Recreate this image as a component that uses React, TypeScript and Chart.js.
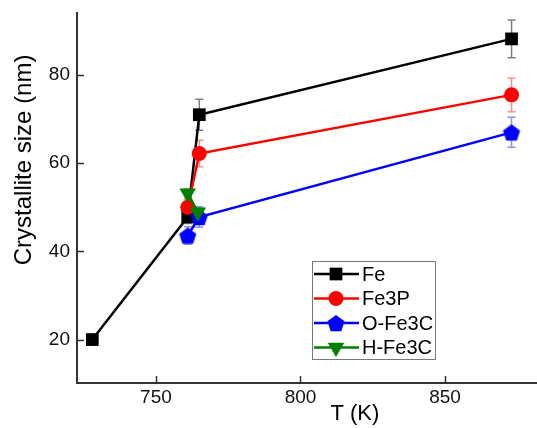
import React, { useEffect, useRef } from 'react';
import { Chart, registerables } from 'chart.js';
import { drawPoint } from 'chart.js/helpers';

Chart.register(...registerables);

// ---- data ----
const seriesNames = ['Fe', 'Fe3P', 'O-Fe3C', 'H-Fe3C'];
const feT = [728, 761, 765, 873];
const feSize = [20, 47.8, 71, 88.2];
const feErr = [0.8, 1.5, 3.5, 4.3];
const fe3pT = [761, 765, 873];
const fe3pSize = [50, 62.2, 75.5];
const fe3pErr = [1.8, 3, 3.8];
const oFe3cT = [761, 765, 873];
const oFe3cSize = [43.6, 47.8, 67];
const oFe3cErr = [2, 2.3, 3.4];
const hFe3cT = [761, 764.5];
const hFe3cSize = [53.2, 48.9];
const hFe3cErr = [1, 1];
const xTicks = [750, 800, 850];
const yTicks = [20, 40, 60, 80];
const xTitle = 'T (K)';
const yTitle = 'Crystallite size (nm)';

const FONT = '"Liberation Sans", Arial, sans-serif';
const colors = ['#000000', '#ff0000', '#0000ff', '#008000'];
const errColors = ['rgba(0,0,0,0.5)', 'rgba(255,0,0,0.45)', 'rgba(0,0,255,0.45)', 'rgba(0,128,0,0.45)'];

function makePentagon(r: number, color: string) {
  const size = Math.ceil(2 * r + 2);
  const c = document.createElement('canvas');
  c.width = size;
  c.height = size;
  const ctx = c.getContext('2d')!;
  const cx = size / 2, cy = size / 2 + 1;
  ctx.beginPath();
  for (let i = 0; i < 5; i++) {
    const a = -Math.PI / 2 + (i * 2 * Math.PI) / 5;
    ctx.lineTo(cx + r * Math.cos(a), cy + r * Math.sin(a));
  }
  ctx.closePath();
  ctx.fillStyle = color;
  ctx.fill();
  return c;
}

export default function App() {
  const ref = useRef<HTMLCanvasElement>(null);
  useEffect(() => {
    document.body.style.margin = '0';
    const pentagon = makePentagon(9, colors[2]);
    const styles: any[] = [
      { pointStyle: 'rect', radius: 9, rotation: 0 },
      { pointStyle: 'circle', radius: 7.5, rotation: 0 },
      { pointStyle: pentagon, radius: 9, rotation: 0 },
      { pointStyle: 'triangle', radius: 9.5, rotation: 180 },
    ];
    const xs = [feT, fe3pT, oFe3cT, hFe3cT];
    const ys = [feSize, fe3pSize, oFe3cSize, hFe3cSize];
    const errs = [feErr, fe3pErr, oFe3cErr, hFe3cErr];

    const datasets = seriesNames.map((name, i) => ({
      label: name,
      data: xs[i].map((x, j) => ({ x, y: ys[i][j] })),
      borderColor: colors[i],
      backgroundColor: colors[i],
      borderWidth: 2.5,
      pointStyle: styles[i].pointStyle,
      pointRadius: styles[i].radius,
      pointHoverRadius: styles[i].radius,
      pointRotation: styles[i].rotation,
      pointBorderWidth: 0,
      pointBackgroundColor: colors[i],
      showLine: true,
      tension: 0,
      order: 3 - i,
    }));

    const errorBars = {
      id: 'errorBars',
      beforeDatasetsDraw(chart: any) {
        const { ctx, scales } = chart;
        const xS = scales.x, yS = scales.y;
        ctx.save();
        ctx.lineWidth = 1.5;
        errs.forEach((arr, i) => {
          ctx.strokeStyle = errColors[i];
          arr.forEach((e, j) => {
            const px = xS.getPixelForValue(xs[i][j]);
            const top = yS.getPixelForValue(ys[i][j] + e);
            const bot = yS.getPixelForValue(ys[i][j] - e);
            ctx.beginPath();
            ctx.moveTo(px, top); ctx.lineTo(px, bot);
            ctx.moveTo(px - 4, top); ctx.lineTo(px + 4, top);
            ctx.moveTo(px - 4, bot); ctx.lineTo(px + 4, bot);
            ctx.stroke();
          });
        });
        ctx.restore();
      },
    };

    const titlesAndLegend = {
      id: 'titlesAndLegend',
      afterDraw(chart: any) {
        const { ctx, chartArea, scales } = chart;
        const { left, right, top, bottom } = chartArea;
        ctx.save();
        // inward ticks
        ctx.strokeStyle = '#333';
        ctx.lineWidth = 1.5;
        ctx.beginPath();
        scales.x.ticks.forEach((t: any) => {
          const px = Math.round(scales.x.getPixelForValue(t.value)) + 0.5;
          ctx.moveTo(px, bottom); ctx.lineTo(px, bottom - 7);
        });
        scales.y.ticks.forEach((t: any) => {
          const py = Math.round(scales.y.getPixelForValue(t.value)) + 0.5;
          ctx.moveTo(left, py); ctx.lineTo(left + 7, py);
        });
        ctx.stroke();

        // axis titles
        ctx.fillStyle = '#000';
        ctx.textAlign = 'center';
        ctx.textBaseline = 'middle';
        ctx.font = `22px ${FONT}`;
        ctx.fillText(xTitle, left + (right - left) * 0.604, bottom + 31);
        ctx.save();
        ctx.translate(24, top + (bottom - top) * 0.397);
        ctx.rotate(-Math.PI / 2);
        ctx.font = `24px ${FONT}`;
        ctx.fillText(yTitle, 0, 0);
        ctx.restore();

        // legend
        const bx = left + 235, by = top + 248, bw = 123, bh = 98;
        ctx.fillStyle = '#fff';
        ctx.fillRect(bx, by, bw, bh);
        ctx.strokeStyle = '#777';
        ctx.lineWidth = 1;
        ctx.strokeRect(bx + 0.5, by + 0.5, bw, bh);
        ctx.textAlign = 'left';
        ctx.font = `20px ${FONT}`;
        seriesNames.forEach((name, i) => {
          const ry = by + 13 + i * 24.5;
          ctx.strokeStyle = colors[i];
          ctx.lineWidth = 2.5;
          ctx.beginPath();
          ctx.moveTo(bx + 2, ry); ctx.lineTo(bx + 47, ry);
          ctx.stroke();
          ctx.fillStyle = colors[i];
          drawPoint(ctx, { pointStyle: styles[i].pointStyle, radius: styles[i].radius, rotation: styles[i].rotation, borderWidth: 0 } as any, bx + 24, ry);
          ctx.fillStyle = '#000';
          ctx.fillText(name, bx + 50, ry + 1);
        });
        ctx.restore();
      },
    };

    const chart = new Chart(ref.current!, {
      type: 'scatter',
      data: { datasets: datasets as any },
      options: {
        animation: false,
        responsive: false,
        maintainAspectRatio: false,
        layout: { autoPadding: false, padding: { top: 13, right: 0, left: 0, bottom: 0 } },
        plugins: { legend: { display: false }, tooltip: { enabled: false } },
        scales: {
          x: {
            type: 'linear',
            min: 722.7,
            max: 881.8,
            grid: { display: false, drawTicks: false },
            border: { display: true, color: '#333', width: 2 },
            ticks: { font: { family: FONT, size: 19 }, color: '#111', padding: 3 },
            afterBuildTicks: (s: any) => { s.ticks = xTicks.map((v) => ({ value: v })); },
            afterFit: (s: any) => { s.height = 45; s.paddingLeft = 0; s.paddingRight = 0; },
          },
          y: {
            type: 'linear',
            min: 10.15,
            max: 94.07,
            grid: { display: false, drawTicks: false },
            border: { display: true, color: '#333', width: 2 },
            ticks: { font: { family: FONT, size: 19 }, color: '#111', padding: 7 },
            afterBuildTicks: (s: any) => { s.ticks = yTicks.map((v) => ({ value: v })); },
            afterFit: (s: any) => { s.width = 77; s.paddingTop = 0; s.paddingBottom = 0; },
          },
        },
      },
      plugins: [errorBars, titlesAndLegend],
    });
    return () => chart.destroy();
  }, []);
  return (
    <div style={{ width: 537, height: 428 }}>
      <canvas ref={ref} width={537} height={428} style={{ display: 'block' }} />
    </div>
  );
}
